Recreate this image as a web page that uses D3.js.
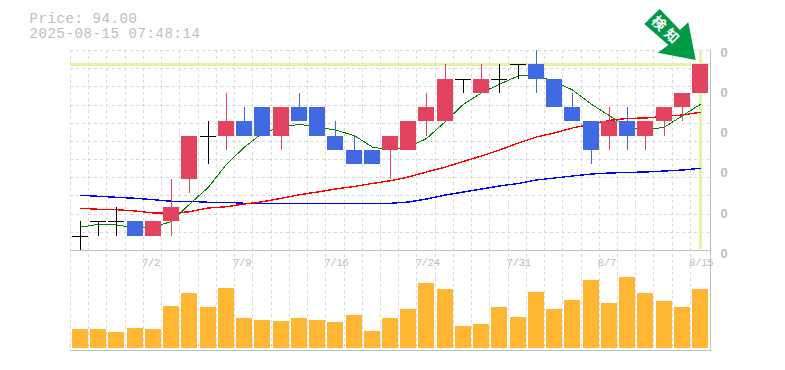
<!DOCTYPE html>
<html>
<head>
<meta charset="utf-8">
<script src="https://cdn.jsdelivr.net/npm/d3@7"></script>
<style>
    html, body { margin: 0; padding: 0; background: #fff; overflow: hidden; }
    svg { display: block; }
    text { font-family: "Liberation Mono", monospace; fill: #bdbdbd; }
</style>
</head>
<body>
<div id="chart"></div>
<script>
// candles, one entry per trading day
let opens  = [82,83,83,83,82,83,86,89,89,90,91,89,91,91,89,88,88,88,88,90,90,93,92,93,94,94,93,91,90,89,90,89,90,91,92];
let highs  = [83,83,84,83,83,86,89,90,92,91,91,91,92,91,90,89,88,89,90,92,94,93,94,94,94,95,93,92,90,91,91,90,91,92,94];
let lows   = [81,82,82,82,82,82,85,87,88,89,89,88,90,89,88,87,87,86,88,89,90,92,92,92,93,92,91,90,87,88,88,88,89,90,92];
let closes = [82,83,83,82,83,84,89,89,90,89,89,91,90,89,88,87,87,89,90,91,93,93,93,93,94,93,91,90,88,90,89,90,91,92,94];

// moving averages
let maShort = [82.6,82.8,82.75,82.55,82.6,83.0,84.2,85.4,87.0,88.2,89.2,89.6,89.8,89.6,89.4,89.0,88.2,88.0,88.2,88.8,90.0,91.2,92.0,92.6,93.2,93.2,92.8,92.2,91.2,90.4,89.6,89.4,89.6,90.4,91.2];
let maMid = [83.92,83.85,83.82,83.73,83.59,83.57,83.68,83.94,84.03,84.22,84.38,84.62,84.87,85.06,85.27,85.45,85.66,85.85,86.11,86.46,86.81,87.2,87.58,88.0,88.49,88.91,89.19,89.54,89.82,90.07,90.21,90.24,90.35,90.45,90.64];
let maLong = [84.83,84.76,84.69,84.62,84.52,84.41,84.41,84.34,84.34,84.27,84.27,84.27,84.27,84.27,84.27,84.27,84.27,84.27,84.36,84.57,84.85,85.06,85.27,85.48,85.66,85.9,86.04,86.18,86.32,86.39,86.43,86.46,86.53,86.6,86.72];

let volumes = [19,19,16,20,19,42,55,41,60,30,28,27,30,28,26,33,17,30,39,65,59,22,24,41,31,56,39,48,68,45,71,55,47,41,59];

let dateLabels = {4: "7/2", 9: "7/9", 14: "7/16", 19: "7/24", 24: "7/31", 29: "8/7", 34: "8/15"};
let priceTicks = [94.86, 92.06, 89.26, 86.46, 83.59, 80.79];
let priceTickLabels = ["0", "0", "0", "0", "0", "0"];
let lastPrice = 94;
let titleLines = ["Price: 94.00", "2025-08-15 07:48:14"];
let signalText = "検知";

class CandleVis {

    constructor(parentElement) {
        let vis = this;
        vis.parentElement = parentElement;
        vis.colors = {up: "#e2435f", down: "#4169e1", flat: "#000", volume: "#ffb733", grid: "#d8d8d8", axis: "#c0c0c0", mark: "#e3f2a6", arrow: "#009944"};
        vis.initVis();
    }

    initVis() {
        let vis = this;

        vis.left = 70;
        vis.right = 710;
        vis.top = 50;
        vis.mid = 250;
        vis.bottom = 350;
        vis.bodyWidth = 16;

        vis.svg = d3.select("#" + vis.parentElement)
            .append("svg")
            .attr("width", 785)
            .attr("height", 370);

        vis.x = d3.scaleBand()
            .domain(d3.range(closes.length))
            .range([vis.left, 708.2]);

        vis.y = d3.scaleLinear()
            .domain([81, 95])
            .range([vis.mid, vis.top]);

        vis.yVol = d3.scaleLinear()
            .domain([0, 100])
            .range([348, 248]);

        // middle of a candle, they sit a little right of the band centre
        vis.cx = i => Math.round(vis.x(i) + vis.x.step() / 2 + 0.9);

        vis.drawGrid();
        vis.drawLines();
        vis.drawVolume();
        vis.drawCandles();
        vis.drawLabels();
        vis.drawArrow();
    }

    drawGrid() {
        let vis = this;
        let g = vis.svg.append("g").attr("shape-rendering", "crispEdges");

        let hLines = d3.range(12).map(i => vis.top + i * (vis.mid - vis.top) / 11);
        g.selectAll(".grid-h")
            .data(hLines)
            .enter()
            .append("line")
            .attr("class", "grid-h")
            .attr("x1", vis.left)
            .attr("x2", vis.right)
            .attr("y1", d => Math.round(d) + 0.5)
            .attr("y2", d => Math.round(d) + 0.5)
            .attr("stroke", vis.colors.grid)
            .attr("stroke-dasharray", "3,3");

        g.selectAll(".grid-v")
            .data(vis.x.domain())
            .enter()
            .append("line")
            .attr("class", "grid-v")
            .attr("x1", d => Math.round(vis.x(d)) + 0.5)
            .attr("x2", d => Math.round(vis.x(d)) + 0.5)
            .attr("y1", vis.top)
            .attr("y2", vis.bottom)
            .attr("stroke", vis.colors.grid)
            .attr("stroke-dasharray", "3,3");

        // current price and current day markers
        g.append("line")
            .attr("x1", vis.left)
            .attr("x2", vis.right)
            .attr("y1", vis.y(lastPrice) + 0.5)
            .attr("y2", vis.y(lastPrice) + 0.5)
            .attr("stroke", vis.colors.mark)
            .attr("stroke-width", 3);

        g.append("line")
            .attr("x1", vis.cx(closes.length - 1) + 0.5)
            .attr("x2", vis.cx(closes.length - 1) + 0.5)
            .attr("y1", vis.top)
            .attr("y2", vis.mid - 1)
            .attr("stroke", vis.colors.mark)
            .attr("stroke-width", 3);

        // panel frame
        [vis.mid, vis.bottom].forEach(y => {
            g.append("line")
                .attr("x1", vis.left)
                .attr("x2", vis.right + 1)
                .attr("y1", y + 0.5)
                .attr("y2", y + 0.5)
                .attr("stroke", vis.colors.axis);
        });

        g.append("line")
            .attr("x1", vis.right + 0.5)
            .attr("x2", vis.right + 0.5)
            .attr("y1", vis.top)
            .attr("y2", vis.bottom)
            .attr("stroke", vis.colors.axis);
    }

    drawLines() {
        let vis = this;
        let line = d3.line()
            .x((d, i) => vis.cx(i) + 0.5)
            .y(d => vis.y(d));

        let series = [
            {values: maLong, color: "#0000ff", width: 1.4},
            {values: maMid, color: "#ff0000", width: 1.4},
            {values: maShort, color: "#008000", width: 1}
        ];

        vis.svg.selectAll(".ma")
            .data(series)
            .enter()
            .append("path")
            .attr("class", "ma")
            .attr("d", d => line(d.values))
            .attr("fill", "none")
            .attr("stroke", d => d.color)
            .attr("stroke-width", d => d.width)
            .attr("shape-rendering", "crispEdges");
    }

    drawVolume() {
        let vis = this;

        vis.svg.append("g")
            .attr("shape-rendering", "crispEdges")
            .selectAll("rect")
            .data(volumes)
            .enter()
            .append("rect")
            .attr("x", (d, i) => vis.cx(i) - vis.bodyWidth / 2)
            .attr("width", vis.bodyWidth)
            .attr("y", d => vis.yVol(d))
            .attr("height", d => vis.yVol(0) - vis.yVol(d))
            .attr("fill", vis.colors.volume);
    }

    drawCandles() {
        let vis = this;

        let candleData = closes.map((c, i) => ({
            i: i,
            open: opens[i],
            high: highs[i],
            low: lows[i],
            close: c,
            color: c > opens[i] ? vis.colors.up : (c < opens[i] ? vis.colors.down : vis.colors.flat)
        }));

        let g = vis.svg.append("g").attr("shape-rendering", "crispEdges");

        g.selectAll(".wick")
            .data(candleData)
            .enter()
            .append("line")
            .attr("class", "wick")
            .attr("x1", d => vis.cx(d.i) + 0.5)
            .attr("x2", d => vis.cx(d.i) + 0.5)
            .attr("y1", d => vis.y(d.high))
            .attr("y2", d => vis.y(d.low))
            .attr("stroke", d => d.color);

        // doji days have no height, they get a 1px rect
        g.selectAll(".body")
            .data(candleData)
            .enter()
            .append("rect")
            .attr("class", "body")
            .attr("x", d => vis.cx(d.i) - vis.bodyWidth / 2)
            .attr("width", vis.bodyWidth)
            .attr("y", d => vis.y(Math.max(d.open, d.close)))
            .attr("height", d => Math.max(1, vis.y(Math.min(d.open, d.close)) - vis.y(Math.max(d.open, d.close))))
            .attr("fill", d => d.color);
    }

    drawLabels() {
        let vis = this;

        vis.svg.selectAll(".title")
            .data(titleLines)
            .enter()
            .append("text")
            .attr("class", "title")
            .attr("x", 29.5)
            .attr("y", (d, i) => 23 + i * 15)
            .attr("font-size", 14)
            .style("letter-spacing", "0.6px")
            .text(d => d);

        vis.svg.selectAll(".date")
            .data(Object.keys(dateLabels))
            .enter()
            .append("text")
            .attr("class", "date")
            .attr("x", d => vis.x(+d) - 1)
            .attr("y", 266)
            .attr("font-size", 11)
            .style("letter-spacing", "-0.6px")
            .text(d => dateLabels[d]);

        vis.svg.selectAll(".price")
            .data(priceTicks)
            .enter()
            .append("text")
            .attr("class", "price")
            .attr("x", 724)
            .attr("y", d => vis.y(d) + 4.5)
            .attr("text-anchor", "middle")
            .attr("font-size", 13)
            .style("font-family", '"Liberation Sans"')
            .style("font-weight", "bold")
            .text((d, i) => priceTickLabels[i]);
    }

    drawArrow() {
        let vis = this;

        // outline relative to the arrow tip
        let outline = [[-36, -51], [-51.4, -36], [-27.4, -15], [-38, -7.3], [0, 0], [-7.4, -37.7], [-15.7, -30]];
        let tipX = vis.cx(closes.length - 1) - 4.3;
        let tipY = vis.y(lastPrice) - 4.3;

        let g = vis.svg.append("g")
            .attr("transform", "translate(" + tipX + "," + tipY + ")");

        g.append("path")
            .attr("d", d3.line()(outline) + "Z")
            .attr("fill", vis.colors.arrow);

        g.append("text")
            .attr("transform", "translate(-29,-29) rotate(45)")
            .attr("text-anchor", "middle")
            .attr("dy", "0.35em")
            .style("font-family", '"Noto Sans CJK JP"')
            .style("fill", "#fff")
            .style("font-weight", "bold")
            .style("letter-spacing", "4px")
            .attr("font-size", 14)
            .text(signalText);
    }
}

new CandleVis("chart");
</script>
</body>
</html>
